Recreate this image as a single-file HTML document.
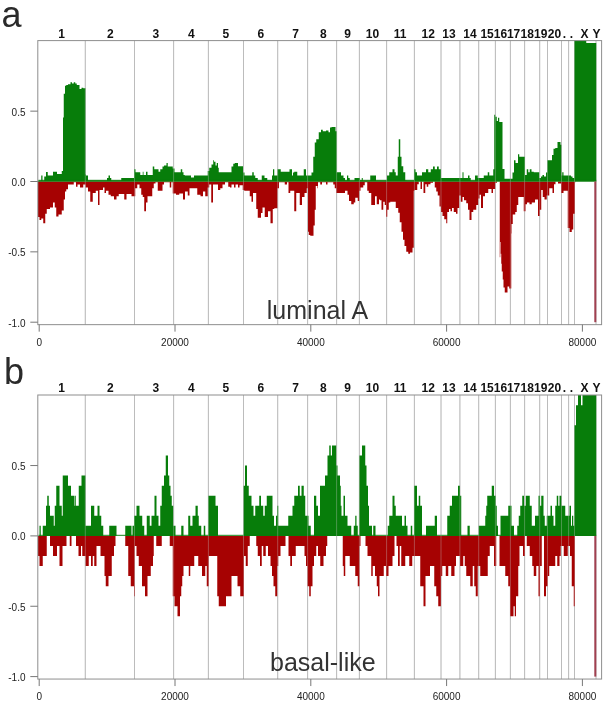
<!DOCTYPE html>
<html><head><meta charset="utf-8"><title>CNA frequency</title>
<style>
html,body{margin:0;padding:0;background:#fff;}
svg{display:block}
text{font-family:"Liberation Sans",Arial,sans-serif;}
.ax{font-size:10px;fill:#222;}
.chr{font-size:12px;font-weight:bold;fill:#111;}
.title{font-size:25px;fill:#333;}
.letter{font-size:36px;fill:#2a2a2a;}
</style></head><body>
<svg width="606" height="708" viewBox="0 0 606 708">
<rect width="606" height="708" fill="#fff"/>
<g transform="translate(0,0)">
<line x1="85.3" y1="40.6" x2="85.3" y2="324.65" stroke="#b6b6b6" stroke-width="1"/>
<line x1="134.5" y1="40.6" x2="134.5" y2="324.65" stroke="#b6b6b6" stroke-width="1"/>
<line x1="173.6" y1="40.6" x2="173.6" y2="324.65" stroke="#b6b6b6" stroke-width="1"/>
<line x1="208.4" y1="40.6" x2="208.4" y2="324.65" stroke="#b6b6b6" stroke-width="1"/>
<line x1="243.5" y1="40.6" x2="243.5" y2="324.65" stroke="#b6b6b6" stroke-width="1"/>
<line x1="277.7" y1="40.6" x2="277.7" y2="324.65" stroke="#b6b6b6" stroke-width="1"/>
<line x1="307.6" y1="40.6" x2="307.6" y2="324.65" stroke="#b6b6b6" stroke-width="1"/>
<line x1="336.6" y1="40.6" x2="336.6" y2="324.65" stroke="#b6b6b6" stroke-width="1"/>
<line x1="359.4" y1="40.6" x2="359.4" y2="324.65" stroke="#b6b6b6" stroke-width="1"/>
<line x1="386.6" y1="40.6" x2="386.6" y2="324.65" stroke="#b6b6b6" stroke-width="1"/>
<line x1="414.4" y1="40.6" x2="414.4" y2="324.65" stroke="#b6b6b6" stroke-width="1"/>
<line x1="441.0" y1="40.6" x2="441.0" y2="324.65" stroke="#b6b6b6" stroke-width="1"/>
<line x1="459.9" y1="40.6" x2="459.9" y2="324.65" stroke="#b6b6b6" stroke-width="1"/>
<line x1="478.7" y1="40.6" x2="478.7" y2="324.65" stroke="#b6b6b6" stroke-width="1"/>
<line x1="495.4" y1="40.6" x2="495.4" y2="324.65" stroke="#b6b6b6" stroke-width="1"/>
<line x1="510.4" y1="40.6" x2="510.4" y2="324.65" stroke="#b6b6b6" stroke-width="1"/>
<line x1="524.6" y1="40.6" x2="524.6" y2="324.65" stroke="#b6b6b6" stroke-width="1"/>
<line x1="539.7" y1="40.6" x2="539.7" y2="324.65" stroke="#b6b6b6" stroke-width="1"/>
<line x1="547.5" y1="40.6" x2="547.5" y2="324.65" stroke="#b6b6b6" stroke-width="1"/>
<line x1="561.5" y1="40.6" x2="561.5" y2="324.65" stroke="#b6b6b6" stroke-width="1"/>
<line x1="568.6" y1="40.6" x2="568.6" y2="324.65" stroke="#b6b6b6" stroke-width="1"/>
<line x1="574.5" y1="40.6" x2="574.5" y2="324.65" stroke="#b6b6b6" stroke-width="1"/>
<line x1="596.0" y1="40.6" x2="596.0" y2="324.65" stroke="#b6b6b6" stroke-width="1"/>
<path d="M37.80,181.50H37.75V181.50H38.00V216.88H39.50V220.05H41.25V218.47H43.25V223.22H45.25V213.71H46.75V208.96H50.00V207.38H53.00V202.62H54.75V207.38H56.25V216.56H58.50V214.50H61.75V210.54H63.75V199.46H65.00V191.53H66.25V189.16H68.00V184.41H73.75V182.35H76.00V186.78H77.50V184.41H80.00V187.57H83.25V184.41H85.50V187.57H88.00V191.53H90.25V201.83H92.75V193.12H95.75V190.74H98.00V205.00H99.50V189.95H103.00V187.57H104.50V193.12H106.00V190.74H108.50V194.70H110.75V196.29H114.00V199.46H116.50V196.29H118.75V193.91H124.25V199.46H126.50V193.91H131.50V196.29H135.25V188.37H137.25V184.41H139.50V188.37H141.25V194.70H142.75V197.08H144.25V211.34H146.00V202.62H147.50V196.29H152.25V188.37H153.75V183.61H155.50V182.35H157.75V190.74H162.50V184.41H164.00V182.35H169.75V187.57H171.25V182.35H172.75V193.44H176.00V194.70H179.25V193.44H183.00V199.46H185.00V191.53H187.75V195.50H189.50V188.37H197.25V194.70H200.50V196.29H203.00V191.53H205.25V196.29H207.75V187.57H209.25V184.41H211.25V202.62H213.00V184.41H218.00V189.95H220.25V188.37H222.50V184.41H225.00V182.35H228.25V186.78H230.00V187.57H231.50V184.41H234.00V187.57H235.50V184.41H238.00V187.57H239.50V185.20H242.75V189.95H244.25V190.74H249.75V196.29H251.50V201.83H253.00V193.12H256.25V208.96H257.75V217.67H261.00V212.92H262.50V207.38H264.75V216.88H268.00V211.34H270.50V223.22H272.75V208.96H274.25V208.17H277.50V188.37H279.00V182.35H284.75V184.41H287.00V182.35H288.50V193.12H290.25V190.74H294.25V211.34H296.25V193.12H299.75V205.00H302.00V197.08H304.50V193.12H306.75V188.37H308.00V231.86H308.75V235.03H310.25V235.82H313.50V225.52H314.75V209.68H315.75V185.92H317.50V188.37H318.00V182.35H320.25V184.41H322.00V182.35H326.00V184.41H327.50V182.35H333.25V184.41H334.75V188.37H336.25V193.12H345.00V190.74H347.50V194.70H349.00V201.04H351.25V204.21H353.75V202.62H355.25V197.87H357.75V201.04H359.25V190.74H360.50V187.57H363.25V185.20H364.75V182.35H367.25V190.74H368.75V193.12H371.25V205.00H375.00V196.29H376.75V204.21H379.00V199.46H380.00V200.18H381.50V209.68H383.25V201.76H384.75V204.93H386.00V216.81H387.25V209.68H388.75V202.55H390.25V201.76H395.75V208.10H398.25V212.85H399.75V222.36H401.50V231.86H403.00V239.78H404.50V246.12H406.25V251.66H408.25V253.72H410.00V252.46H412.50V247.70H413.75V190.67H414.50V189.88H417.25V184.34H418.75V181.50H420.50V189.09H422.00V181.50H423.50V193.05H425.25V184.34H426.75V186.71H428.25V184.34H430.50V182.75H433.00V181.50H434.75V187.50H436.25V191.47H437.75V195.43H439.50V206.51H441.00V212.06H442.50V216.02H444.25V219.19H446.25V223.15H447.25V212.06H449.00V208.89H450.50V211.27H452.00V208.10H453.75V212.06H456.00V213.64H457.50V208.10H459.25V195.43H460.75V201.76H462.50V197.01H464.00V200.18H466.25V203.35H468.00V209.68H469.50V219.98H471.50V212.06H473.25V209.68H476.25V204.93H478.25V198.59H479.50V194.63H481.00V208.10H483.00V196.22H485.00V193.05H488.25V189.09H491.50V193.05H493.00V189.09H495.25V182.75H497.00V181.50H499.75V257.21H500.25V241.88H500.75V253.76H501.25V263.66H501.75V271.58H502.75V279.50H503.50V287.43H504.75V292.38H507.50V286.44H509.25V288.42H511.25V233.45H511.50V223.94H512.75V214.44H515.25V212.06H516.75V204.93H518.25V197.01H523.75V211.27H525.50V204.14H527.00V202.55H529.50V204.14H531.75V202.55H535.00V199.39H538.00V216.02H539.75V209.68H541.25V189.88H542.75V197.01H544.50V199.39H546.75V195.43H549.25V188.30H552.50V193.05H554.00V184.34H555.50V181.50H558.00V183.54H561.00V193.05H563.50V190.67H566.00V190.74H567.75V227.97H569.50V231.93H571.75V229.55H573.25V213.71H575.00V182.35H575.50V181.50H596.50V181.50Z" fill="#a60202"/>
<path d="M37.80,181.50H37.75V181.50H38.00V180.76H41.25V175.38H42.50V180.76H44.25V176.49H46.00V172.05H47.75V175.38H53.00V171.73H57.00V174.11H61.75V170.94H63.00V117.52H63.75V93.76H65.00V85.84H66.25V85.05H68.00V84.26H70.50V82.36H72.00V83.47H73.75V82.36H75.25V83.47H76.75V85.05H79.50V89.01H81.50V87.74H83.25V88.22H85.50V174.55H86.00V175.38H88.00V180.45H107.00V178.07H108.50V175.38H110.00V178.07H111.25V180.45H121.25V178.07H134.00V169.36H135.50V172.21H140.25V174.90H142.75V171.73H143.50V174.90H146.00V171.73H147.50V174.90H152.75V166.50H154.25V169.36H158.50V171.73H160.25V169.36H162.50V166.50H164.00V165.40H166.50V163.02H167.75V166.50H172.75V168.56H174.50V172.21H180.75V169.36H182.25V172.21H183.50V174.90H184.75V175.38H191.00V177.59H194.00V175.38H207.75V170.94H209.25V167.77H211.50V164.60H213.25V160.17H214.00V161.75H215.50V165.40H216.75V163.02H218.00V167.77H218.75V172.21H231.50V166.50H233.25V163.81H234.75V163.02H238.00V166.19H243.00V172.52H244.50V175.38H252.25V172.21H253.75V175.38H255.25V178.07H257.75V180.45H261.75V175.38H264.50V178.07H267.25V180.45H272.00V175.38H273.00V169.36H274.25V175.38H277.50V169.36H280.75V171.73H289.50V169.36H292.00V175.38H293.00V172.52H294.25V171.73H297.25V175.38H303.75V169.36H306.00V175.38H311.50V172.52H313.25V156.68H314.75V142.43H316.25V139.26H318.75V132.13H321.00V129.75H322.75V131.34H326.00V130.54H328.50V132.13H330.00V127.38H331.50V126.90H335.50V131.34H336.75V172.52H337.00V172.21H341.00V175.38H343.50V178.07H345.00V180.45H347.00V175.38H348.25V178.07H349.75V180.76H354.50V178.07H360.00V180.45H361.75V178.07H362.75V180.76H370.25V175.38H376.00V180.76H387.00V175.38H389.25V172.21H392.50V169.36H394.50V172.21H395.75V175.38H397.75V156.68H398.75V139.26H400.25V156.68H401.50V166.19H403.25V172.21H405.25V180.45H406.75V180.76H414.00V169.36H415.50V172.21H417.00V175.38H422.00V172.21H426.00V169.36H428.25V172.21H430.75V169.36H433.00V166.50H434.75V169.36H437.00V166.50H438.75V169.36H441.00V178.07H462.50V172.21H463.50V178.07H468.00V175.38H469.50V178.07H470.75V180.76H475.00V175.38H477.75V178.07H483.75V175.38H487.75V172.21H489.25V175.38H493.25V169.36H494.25V114.75H495.25V116.80H496.75V120.89H498.00V117.82H499.25V121.92H502.50V169.02H504.50V178.86H512.50V172.52H514.00V160.17H515.50V163.02H518.00V154.31H519.25V156.68H525.00V174.90H526.75V169.36H528.25V172.21H529.75V169.36H531.50V171.73H533.75V172.21H539.25V178.07H541.00V176.49H542.50V174.90H544.00V176.49H546.00V172.52H547.25V160.17H552.00V155.10H553.50V148.76H555.25V147.97H557.50V142.11H560.50V144.80H561.50V175.38H562.25V172.21H563.50V175.38H571.00V176.49H572.50V178.07H574.25V40.60H586.25V43.00H596.25V181.50H596.50V181.50Z" fill="#077d0a"/>
<rect x="38.3" y="179.8" width="557.9000000000001" height="1.7" fill="#077d0a" opacity="0.85"/>
<line x1="85.3" y1="40.6" x2="85.3" y2="324.65" stroke="#c8c8c8" stroke-width="1" opacity="0.35"/>
<line x1="134.5" y1="40.6" x2="134.5" y2="324.65" stroke="#c8c8c8" stroke-width="1" opacity="0.35"/>
<line x1="173.6" y1="40.6" x2="173.6" y2="324.65" stroke="#c8c8c8" stroke-width="1" opacity="0.35"/>
<line x1="208.4" y1="40.6" x2="208.4" y2="324.65" stroke="#c8c8c8" stroke-width="1" opacity="0.35"/>
<line x1="243.5" y1="40.6" x2="243.5" y2="324.65" stroke="#c8c8c8" stroke-width="1" opacity="0.35"/>
<line x1="277.7" y1="40.6" x2="277.7" y2="324.65" stroke="#c8c8c8" stroke-width="1" opacity="0.35"/>
<line x1="307.6" y1="40.6" x2="307.6" y2="324.65" stroke="#c8c8c8" stroke-width="1" opacity="0.35"/>
<line x1="336.6" y1="40.6" x2="336.6" y2="324.65" stroke="#c8c8c8" stroke-width="1" opacity="0.35"/>
<line x1="359.4" y1="40.6" x2="359.4" y2="324.65" stroke="#c8c8c8" stroke-width="1" opacity="0.35"/>
<line x1="386.6" y1="40.6" x2="386.6" y2="324.65" stroke="#c8c8c8" stroke-width="1" opacity="0.35"/>
<line x1="414.4" y1="40.6" x2="414.4" y2="324.65" stroke="#c8c8c8" stroke-width="1" opacity="0.35"/>
<line x1="441.0" y1="40.6" x2="441.0" y2="324.65" stroke="#c8c8c8" stroke-width="1" opacity="0.35"/>
<line x1="459.9" y1="40.6" x2="459.9" y2="324.65" stroke="#c8c8c8" stroke-width="1" opacity="0.35"/>
<line x1="478.7" y1="40.6" x2="478.7" y2="324.65" stroke="#c8c8c8" stroke-width="1" opacity="0.35"/>
<line x1="495.4" y1="40.6" x2="495.4" y2="324.65" stroke="#c8c8c8" stroke-width="1" opacity="0.35"/>
<line x1="510.4" y1="40.6" x2="510.4" y2="324.65" stroke="#c8c8c8" stroke-width="1" opacity="0.35"/>
<line x1="524.6" y1="40.6" x2="524.6" y2="324.65" stroke="#c8c8c8" stroke-width="1" opacity="0.35"/>
<line x1="539.7" y1="40.6" x2="539.7" y2="324.65" stroke="#c8c8c8" stroke-width="1" opacity="0.35"/>
<line x1="547.5" y1="40.6" x2="547.5" y2="324.65" stroke="#c8c8c8" stroke-width="1" opacity="0.35"/>
<line x1="561.5" y1="40.6" x2="561.5" y2="324.65" stroke="#c8c8c8" stroke-width="1" opacity="0.35"/>
<line x1="568.6" y1="40.6" x2="568.6" y2="324.65" stroke="#c8c8c8" stroke-width="1" opacity="0.35"/>
<line x1="574.5" y1="40.6" x2="574.5" y2="324.65" stroke="#c8c8c8" stroke-width="1" opacity="0.35"/>
<line x1="595.3" y1="181.5" x2="595.3" y2="322.2" stroke="#a04050" stroke-width="2"/>
<rect x="37.8" y="40.6" width="563.8000000000001" height="284.04999999999995" fill="none" stroke="#8e8e8e" stroke-width="1"/>
<line x1="30.299999999999997" y1="111.15" x2="37.8" y2="111.15" stroke="#777" stroke-width="1"/>
<text x="25.5" y="115.55000000000001" text-anchor="end" class="ax">0.5</text>
<line x1="30.299999999999997" y1="181.5" x2="37.8" y2="181.5" stroke="#777" stroke-width="1"/>
<text x="25.5" y="185.9" text-anchor="end" class="ax">0.0</text>
<line x1="30.299999999999997" y1="251.85" x2="37.8" y2="251.85" stroke="#777" stroke-width="1"/>
<text x="25.5" y="256.25" text-anchor="end" class="ax">-0.5</text>
<line x1="30.299999999999997" y1="322.2" x2="37.8" y2="322.2" stroke="#777" stroke-width="1"/>
<text x="25.5" y="326.59999999999997" text-anchor="end" class="ax">-1.0</text>
<line x1="39.2" y1="324.65" x2="39.2" y2="331.65" stroke="#777" stroke-width="1"/>
<text x="39.2" y="345.95" text-anchor="middle" class="ax">0</text>
<line x1="175.0" y1="324.65" x2="175.0" y2="331.65" stroke="#777" stroke-width="1"/>
<text x="175.0" y="345.95" text-anchor="middle" class="ax">20000</text>
<line x1="310.8" y1="324.65" x2="310.8" y2="331.65" stroke="#777" stroke-width="1"/>
<text x="310.8" y="345.95" text-anchor="middle" class="ax">40000</text>
<line x1="446.59999999999997" y1="324.65" x2="446.59999999999997" y2="331.65" stroke="#777" stroke-width="1"/>
<text x="446.59999999999997" y="345.95" text-anchor="middle" class="ax">60000</text>
<line x1="582.4000000000001" y1="324.65" x2="582.4000000000001" y2="331.65" stroke="#777" stroke-width="1"/>
<text x="582.4000000000001" y="345.95" text-anchor="middle" class="ax">80000</text>
<text x="61.5" y="37.5" text-anchor="middle" class="chr">1</text>
<text x="110.4" y="37.5" text-anchor="middle" class="chr">2</text>
<text x="155.9" y="37.5" text-anchor="middle" class="chr">3</text>
<text x="191.3" y="37.5" text-anchor="middle" class="chr">4</text>
<text x="225.9" y="37.5" text-anchor="middle" class="chr">5</text>
<text x="260.8" y="37.5" text-anchor="middle" class="chr">6</text>
<text x="295.7" y="37.5" text-anchor="middle" class="chr">7</text>
<text x="323.3" y="37.5" text-anchor="middle" class="chr">8</text>
<text x="347.6" y="37.5" text-anchor="middle" class="chr">9</text>
<text x="372.5" y="37.5" text-anchor="middle" class="chr">10</text>
<text x="400.0" y="37.5" text-anchor="middle" class="chr">11</text>
<text x="428.3" y="37.5" text-anchor="middle" class="chr">12</text>
<text x="449.0" y="37.5" text-anchor="middle" class="chr">13</text>
<text x="470.0" y="37.5" text-anchor="middle" class="chr">14</text>
<text x="487.1" y="37.5" text-anchor="middle" class="chr">15</text>
<text x="500.5" y="37.5" text-anchor="middle" class="chr">16</text>
<text x="513.6" y="37.5" text-anchor="middle" class="chr">17</text>
<text x="527.2" y="37.5" text-anchor="middle" class="chr">18</text>
<text x="540.7" y="37.5" text-anchor="middle" class="chr">19</text>
<text x="554.5" y="37.5" text-anchor="middle" class="chr">20</text>
<text x="564.5" y="37.5" text-anchor="middle" class="chr">.</text>
<text x="571.4" y="37.5" text-anchor="middle" class="chr">.</text>
<text x="584.6" y="37.5" text-anchor="middle" class="chr">X</text>
<text x="596.5" y="37.5" text-anchor="middle" class="chr">Y</text>
</g>
<text x="266.8" y="319.0" class="title">luminal A</text>
<text x="1.6" y="26.7" class="letter">a</text>
<g transform="translate(0,354.4)">
<line x1="85.3" y1="40.6" x2="85.3" y2="324.65" stroke="#b6b6b6" stroke-width="1"/>
<line x1="134.5" y1="40.6" x2="134.5" y2="324.65" stroke="#b6b6b6" stroke-width="1"/>
<line x1="173.6" y1="40.6" x2="173.6" y2="324.65" stroke="#b6b6b6" stroke-width="1"/>
<line x1="208.4" y1="40.6" x2="208.4" y2="324.65" stroke="#b6b6b6" stroke-width="1"/>
<line x1="243.5" y1="40.6" x2="243.5" y2="324.65" stroke="#b6b6b6" stroke-width="1"/>
<line x1="277.7" y1="40.6" x2="277.7" y2="324.65" stroke="#b6b6b6" stroke-width="1"/>
<line x1="307.6" y1="40.6" x2="307.6" y2="324.65" stroke="#b6b6b6" stroke-width="1"/>
<line x1="336.6" y1="40.6" x2="336.6" y2="324.65" stroke="#b6b6b6" stroke-width="1"/>
<line x1="359.4" y1="40.6" x2="359.4" y2="324.65" stroke="#b6b6b6" stroke-width="1"/>
<line x1="386.6" y1="40.6" x2="386.6" y2="324.65" stroke="#b6b6b6" stroke-width="1"/>
<line x1="414.4" y1="40.6" x2="414.4" y2="324.65" stroke="#b6b6b6" stroke-width="1"/>
<line x1="441.0" y1="40.6" x2="441.0" y2="324.65" stroke="#b6b6b6" stroke-width="1"/>
<line x1="459.9" y1="40.6" x2="459.9" y2="324.65" stroke="#b6b6b6" stroke-width="1"/>
<line x1="478.7" y1="40.6" x2="478.7" y2="324.65" stroke="#b6b6b6" stroke-width="1"/>
<line x1="495.4" y1="40.6" x2="495.4" y2="324.65" stroke="#b6b6b6" stroke-width="1"/>
<line x1="510.4" y1="40.6" x2="510.4" y2="324.65" stroke="#b6b6b6" stroke-width="1"/>
<line x1="524.6" y1="40.6" x2="524.6" y2="324.65" stroke="#b6b6b6" stroke-width="1"/>
<line x1="539.7" y1="40.6" x2="539.7" y2="324.65" stroke="#b6b6b6" stroke-width="1"/>
<line x1="547.5" y1="40.6" x2="547.5" y2="324.65" stroke="#b6b6b6" stroke-width="1"/>
<line x1="561.5" y1="40.6" x2="561.5" y2="324.65" stroke="#b6b6b6" stroke-width="1"/>
<line x1="568.6" y1="40.6" x2="568.6" y2="324.65" stroke="#b6b6b6" stroke-width="1"/>
<line x1="574.5" y1="40.6" x2="574.5" y2="324.65" stroke="#b6b6b6" stroke-width="1"/>
<line x1="596.0" y1="40.6" x2="596.0" y2="324.65" stroke="#b6b6b6" stroke-width="1"/>
<path d="M37.80,181.50H37.75V181.50H38.00V201.60H39.50V211.65H42.75V201.60H46.75V181.50H50.00V191.55H53.00V201.60H57.00V191.55H59.50V211.65H62.50V191.55H66.50V181.50H69.75V191.55H71.50V181.50H76.00V191.55H78.50V201.60H81.00V191.55H82.25V201.60H85.50V211.65H88.75V201.60H91.00V211.65H92.75V201.60H94.25V211.65H96.50V191.55H100.50V201.60H104.50V221.70H105.75V231.75H108.50V221.70H111.75V201.60H114.00V191.55H115.50V181.50H125.25V191.55H128.25V221.70H130.75V231.75H134.00V241.80H134.75V191.55H136.50V201.60H138.75V211.65H142.00V231.75H145.00V241.80H147.50V221.70H150.75V211.65H153.00V201.60H153.75V181.50H156.25V191.55H161.75V181.50H169.75V191.55H172.75V241.80H174.50V251.85H177.50V261.90H180.00V241.80H181.25V231.75H182.25V221.70H183.50V211.65H188.75V221.70H190.25V211.65H194.25V201.60H198.25V211.65H202.00V221.70H205.25V211.65H206.75V231.75H208.75V201.60H217.25V241.80H218.75V251.85H226.00V241.80H231.50V221.70H237.50V231.75H240.25V241.80H244.00V201.60H245.75V211.65H247.75V191.55H249.75V181.50H256.25V191.55H257.75V201.60H260.00V211.65H261.75V191.55H263.25V201.60H265.75V191.55H268.00V201.60H270.50V211.65H272.00V221.70H273.50V231.75H275.25V241.80H277.25V211.65H278.25V201.60H280.50V191.55H285.50V181.50H288.50V201.60H290.25V211.65H292.00V201.60H295.75V191.55H304.50V201.60H306.00V211.65H307.50V231.75H309.25V241.80H310.75V231.75H312.50V211.65H314.00V201.60H316.25V191.55H318.00V201.60H320.25V211.65H323.50V201.60H326.00V191.55H327.25V181.50H342.75V211.65H343.75V221.70H345.25V201.60H349.75V211.65H355.25V221.70H357.75V231.75H359.50V191.55H360.50V181.50H365.50V191.55H367.50V201.60H371.25V221.70H372.75V211.65H375.00V221.70H376.75V231.75H378.00V241.80H379.50V221.70H383.75V211.65H386.00V221.70H388.50V211.65H392.50V201.60H394.50V181.50H396.50V191.55H398.00V211.65H399.75V191.55H401.25V211.65H405.25V201.60H409.25V211.65H412.25V201.60H420.25V231.75H423.50V251.85H425.50V221.70H430.00V211.65H434.25V231.75H436.25V241.80H438.25V251.85H441.00V221.70H442.25V211.65H445.75V221.70H448.25V211.65H451.25V221.70H454.50V211.65H456.00V201.60H460.00V211.65H463.25V201.60H464.75V211.65H466.25V221.70H470.25V231.75H472.75V211.65H474.25V231.75H475.75V241.80H477.75V211.65H480.25V221.70H487.75V201.60H489.75V191.55H494.00V211.65H496.25V181.50H499.50V211.65H505.25V221.70H508.25V231.75H510.00V261.90H513.50V251.85H514.75V261.90H516.00V241.80H518.25V211.65H519.50V191.55H523.00V201.60H525.00V181.50H526.75V191.55H529.75V201.60H532.25V211.65H533.75V221.70H536.25V211.65H538.50V241.80H540.00V211.65H541.75V181.50H544.00V241.80H546.00V231.75H547.75V221.70H549.25V211.65H555.25V201.60H557.25V211.65H559.50V201.60H560.75V191.55H563.75V201.60H567.75V191.55H570.00V201.60H571.75V231.75H573.75V251.85H575.00V181.50H596.50V181.50Z" fill="#a60202"/>
<path d="M37.80,181.50H37.75V181.50H39.50V171.45H40.75V181.50H42.75V171.45H46.00V151.35H47.25V141.30H48.75V151.35H50.00V161.40H53.75V171.45H54.75V151.35H56.25V131.25H59.50V151.35H61.75V161.40H62.75V121.20H68.00V131.25H71.00V141.30H74.50V151.35H75.25V141.30H76.00V151.35H78.75V131.25H81.50V121.20H85.50V171.45H91.00V151.35H94.25V161.40H97.50V151.35H99.50V161.40H101.25V171.45H103.25V181.50H109.25V171.45H116.50V181.50H125.25V171.45H131.50V181.50H132.50V171.45H134.00V161.40H136.50V151.35H139.50V161.40H142.25V171.45H144.25V181.50H146.75V161.40H149.75V171.45H151.50V161.40H154.50V141.30H156.50V161.40H158.50V171.45H160.25V151.35H161.75V131.25H164.00V121.20H165.75V101.10H168.00V121.20H169.25V131.25H170.50V141.30H171.75V151.35H173.25V171.45H175.50V181.50H181.25V171.45H183.50V181.50H188.25V161.40H190.25V171.45H192.50V161.40H195.50V151.35H197.75V161.40H198.75V171.45H201.25V181.50H203.75V171.45H205.25V181.50H208.25V141.30H215.50V151.35H218.00V181.50H243.50V131.25H245.00V111.15H247.00V131.25H248.75V141.30H251.50V151.35H253.50V161.40H255.25V151.35H259.25V141.30H261.00V151.35H263.25V161.40H264.75V151.35H266.75V141.30H272.50V161.40H274.00V171.45H276.00V161.40H277.25V151.35H278.25V171.45H288.25V161.40H292.50V151.35H294.25V141.30H298.00V131.25H299.75V141.30H301.50V131.25H303.75V141.30H305.25V161.40H308.50V171.45H310.75V181.50H314.00V141.30H316.25V151.35H318.00V161.40H320.00V131.25H325.00V121.20H327.50V101.10H329.25V91.05H330.75V101.10H332.00V91.05H336.25V111.15H337.50V121.20H340.00V131.25H340.75V151.35H341.50V161.40H343.50V141.30H345.00V161.40H347.50V171.45H351.25V181.50H353.75V171.45H355.25V161.40H356.50V171.45H357.75V181.50H359.25V101.10H362.00V91.05H365.25V111.15H366.50V131.25H368.00V151.35H369.00V171.45H372.00V181.50H373.25V171.45H375.50V181.50H387.75V171.45H389.25V161.40H392.50V141.30H394.50V151.35H395.75V161.40H402.00V171.45H404.50V161.40H406.00V171.45H407.50V181.50H410.75V171.45H412.25V181.50H414.00V131.25H417.00V151.35H418.75V141.30H420.25V151.35H422.00V181.50H426.00V171.45H434.75V161.40H437.00V181.50H447.25V161.40H449.75V151.35H452.00V141.30H458.00V131.25H460.00V141.30H461.25V181.50H467.50V171.45H469.75V181.50H478.75V171.45H485.25V161.40H486.25V151.35H487.25V141.30H491.75V131.25H494.00V141.30H495.75V151.35H496.75V171.45H498.00V181.50H500.50V161.40H508.25V151.35H511.50V171.45H514.00V181.50H517.25V171.45H518.75V161.40H520.25V151.35H522.25V141.30H524.00V151.35H525.75V141.30H529.75V151.35H531.75V171.45H535.00V161.40H538.50V141.30H540.00V151.35H541.25V141.30H543.50V161.40H544.75V171.45H546.75V161.40H550.50V151.35H552.00V161.40H553.50V171.45H555.25V151.35H556.75V141.30H558.25V151.35H559.50V141.30H561.50V151.35H565.25V161.40H569.50V151.35H571.00V171.45H572.00V161.40H573.25V171.45H574.25V70.95H576.00V50.85H578.00V40.60H581.00V50.85H582.50V40.60H596.25V181.50H596.50V181.50Z" fill="#077d0a"/>
<rect x="38.3" y="180.4" width="557.9000000000001" height="1.1" fill="#077d0a" opacity="0.85"/>
<line x1="85.3" y1="40.6" x2="85.3" y2="324.65" stroke="#c8c8c8" stroke-width="1" opacity="0.35"/>
<line x1="134.5" y1="40.6" x2="134.5" y2="324.65" stroke="#c8c8c8" stroke-width="1" opacity="0.35"/>
<line x1="173.6" y1="40.6" x2="173.6" y2="324.65" stroke="#c8c8c8" stroke-width="1" opacity="0.35"/>
<line x1="208.4" y1="40.6" x2="208.4" y2="324.65" stroke="#c8c8c8" stroke-width="1" opacity="0.35"/>
<line x1="243.5" y1="40.6" x2="243.5" y2="324.65" stroke="#c8c8c8" stroke-width="1" opacity="0.35"/>
<line x1="277.7" y1="40.6" x2="277.7" y2="324.65" stroke="#c8c8c8" stroke-width="1" opacity="0.35"/>
<line x1="307.6" y1="40.6" x2="307.6" y2="324.65" stroke="#c8c8c8" stroke-width="1" opacity="0.35"/>
<line x1="336.6" y1="40.6" x2="336.6" y2="324.65" stroke="#c8c8c8" stroke-width="1" opacity="0.35"/>
<line x1="359.4" y1="40.6" x2="359.4" y2="324.65" stroke="#c8c8c8" stroke-width="1" opacity="0.35"/>
<line x1="386.6" y1="40.6" x2="386.6" y2="324.65" stroke="#c8c8c8" stroke-width="1" opacity="0.35"/>
<line x1="414.4" y1="40.6" x2="414.4" y2="324.65" stroke="#c8c8c8" stroke-width="1" opacity="0.35"/>
<line x1="441.0" y1="40.6" x2="441.0" y2="324.65" stroke="#c8c8c8" stroke-width="1" opacity="0.35"/>
<line x1="459.9" y1="40.6" x2="459.9" y2="324.65" stroke="#c8c8c8" stroke-width="1" opacity="0.35"/>
<line x1="478.7" y1="40.6" x2="478.7" y2="324.65" stroke="#c8c8c8" stroke-width="1" opacity="0.35"/>
<line x1="495.4" y1="40.6" x2="495.4" y2="324.65" stroke="#c8c8c8" stroke-width="1" opacity="0.35"/>
<line x1="510.4" y1="40.6" x2="510.4" y2="324.65" stroke="#c8c8c8" stroke-width="1" opacity="0.35"/>
<line x1="524.6" y1="40.6" x2="524.6" y2="324.65" stroke="#c8c8c8" stroke-width="1" opacity="0.35"/>
<line x1="539.7" y1="40.6" x2="539.7" y2="324.65" stroke="#c8c8c8" stroke-width="1" opacity="0.35"/>
<line x1="547.5" y1="40.6" x2="547.5" y2="324.65" stroke="#c8c8c8" stroke-width="1" opacity="0.35"/>
<line x1="561.5" y1="40.6" x2="561.5" y2="324.65" stroke="#c8c8c8" stroke-width="1" opacity="0.35"/>
<line x1="568.6" y1="40.6" x2="568.6" y2="324.65" stroke="#c8c8c8" stroke-width="1" opacity="0.35"/>
<line x1="574.5" y1="40.6" x2="574.5" y2="324.65" stroke="#c8c8c8" stroke-width="1" opacity="0.35"/>
<line x1="595.3" y1="181.5" x2="595.3" y2="322.2" stroke="#a04050" stroke-width="2"/>
<rect x="37.8" y="40.6" width="563.8000000000001" height="284.04999999999995" fill="none" stroke="#8e8e8e" stroke-width="1"/>
<line x1="30.299999999999997" y1="111.15" x2="37.8" y2="111.15" stroke="#777" stroke-width="1"/>
<text x="25.5" y="115.55000000000001" text-anchor="end" class="ax">0.5</text>
<line x1="30.299999999999997" y1="181.5" x2="37.8" y2="181.5" stroke="#777" stroke-width="1"/>
<text x="25.5" y="185.9" text-anchor="end" class="ax">0.0</text>
<line x1="30.299999999999997" y1="251.85" x2="37.8" y2="251.85" stroke="#777" stroke-width="1"/>
<text x="25.5" y="256.25" text-anchor="end" class="ax">-0.5</text>
<line x1="30.299999999999997" y1="322.2" x2="37.8" y2="322.2" stroke="#777" stroke-width="1"/>
<text x="25.5" y="326.59999999999997" text-anchor="end" class="ax">-1.0</text>
<line x1="39.2" y1="324.65" x2="39.2" y2="331.65" stroke="#777" stroke-width="1"/>
<text x="39.2" y="345.95" text-anchor="middle" class="ax">0</text>
<line x1="175.0" y1="324.65" x2="175.0" y2="331.65" stroke="#777" stroke-width="1"/>
<text x="175.0" y="345.95" text-anchor="middle" class="ax">20000</text>
<line x1="310.8" y1="324.65" x2="310.8" y2="331.65" stroke="#777" stroke-width="1"/>
<text x="310.8" y="345.95" text-anchor="middle" class="ax">40000</text>
<line x1="446.59999999999997" y1="324.65" x2="446.59999999999997" y2="331.65" stroke="#777" stroke-width="1"/>
<text x="446.59999999999997" y="345.95" text-anchor="middle" class="ax">60000</text>
<line x1="582.4000000000001" y1="324.65" x2="582.4000000000001" y2="331.65" stroke="#777" stroke-width="1"/>
<text x="582.4000000000001" y="345.95" text-anchor="middle" class="ax">80000</text>
<text x="61.5" y="37.5" text-anchor="middle" class="chr">1</text>
<text x="110.4" y="37.5" text-anchor="middle" class="chr">2</text>
<text x="155.9" y="37.5" text-anchor="middle" class="chr">3</text>
<text x="191.3" y="37.5" text-anchor="middle" class="chr">4</text>
<text x="225.9" y="37.5" text-anchor="middle" class="chr">5</text>
<text x="260.8" y="37.5" text-anchor="middle" class="chr">6</text>
<text x="295.7" y="37.5" text-anchor="middle" class="chr">7</text>
<text x="323.3" y="37.5" text-anchor="middle" class="chr">8</text>
<text x="347.6" y="37.5" text-anchor="middle" class="chr">9</text>
<text x="372.5" y="37.5" text-anchor="middle" class="chr">10</text>
<text x="400.0" y="37.5" text-anchor="middle" class="chr">11</text>
<text x="428.3" y="37.5" text-anchor="middle" class="chr">12</text>
<text x="449.0" y="37.5" text-anchor="middle" class="chr">13</text>
<text x="470.0" y="37.5" text-anchor="middle" class="chr">14</text>
<text x="487.1" y="37.5" text-anchor="middle" class="chr">15</text>
<text x="500.5" y="37.5" text-anchor="middle" class="chr">16</text>
<text x="513.6" y="37.5" text-anchor="middle" class="chr">17</text>
<text x="527.2" y="37.5" text-anchor="middle" class="chr">18</text>
<text x="540.7" y="37.5" text-anchor="middle" class="chr">19</text>
<text x="554.5" y="37.5" text-anchor="middle" class="chr">20</text>
<text x="564.5" y="37.5" text-anchor="middle" class="chr">.</text>
<text x="571.4" y="37.5" text-anchor="middle" class="chr">.</text>
<text x="584.6" y="37.5" text-anchor="middle" class="chr">X</text>
<text x="596.5" y="37.5" text-anchor="middle" class="chr">Y</text>
</g>
<text x="270.0" y="671.3" class="title">basal-like</text>
<text x="4.0" y="383.7" class="letter">b</text>
</svg>
</body></html>
